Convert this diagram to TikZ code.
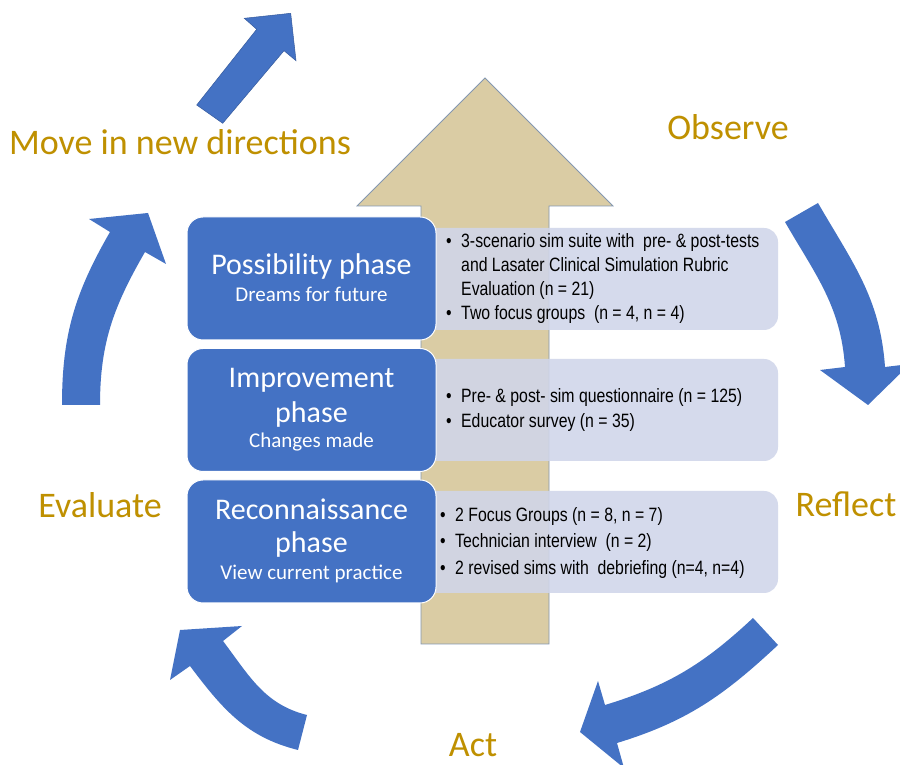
\documentclass[tikz,border=0pt]{standalone}
\usepackage{fontspec}
\setmainfont{Carlito}
\newfontfamily\listfont[FakeStretch=0.82]{Liberation Sans}
\definecolor{cycleblue}{HTML}{4472C4}
\definecolor{labelgold}{HTML}{BF9000}
\definecolor{shafttan}{HTML}{DACCA4}
\definecolor{tanedge}{HTML}{8497B0}
\definecolor{notefill}{HTML}{D0D6EA}

\begin{document}
\begin{tikzpicture}[x=1pt,y=1pt,
  cyclearrow/.style={fill=cycleblue},
  phasebox/.style={fill=cycleblue, draw=white, line width=1pt, rounded corners=16pt,
    minimum width=249pt, minimum height=123pt, inner sep=0pt},
  notebox/.style={fill=notefill, fill opacity=0.88, rounded corners=14pt,
    minimum height=102pt, inner sep=0pt},
  steplabel/.style={text=labelgold, font=\fontsize{36}{40}\selectfont, anchor=base, inner sep=0pt},
  phasetitle/.style={text=white, font=\fontsize{30}{34}\selectfont, anchor=base, inner sep=0pt},
  phasesub/.style={text=white, font=\fontsize{21}{24}\selectfont, anchor=base, inner sep=0pt},
  noteline/.style={font=\listfont\fontsize{19.3}{23}\selectfont, anchor=base west, inner sep=0pt},
]
\newcommand{\bul}{\makebox[15pt][l]{\textbullet}}
\useasboundingbox (0,0) rectangle (900,765);
\fill[white] (0,0) rectangle (900,765);

% big upward arrow behind the phases
\draw[fill=shafttan, draw=tanedge, line width=0.8pt]
  (421,121) -- (421,559) -- (357,559) -- (485,687) -- (613,559) -- (549,559) -- (549,121) -- cycle;

% cycle arrows
% Evaluate -> Move in new directions
\fill[cyclearrow] (62,360) to[out=90,in=240] (110,533) -- (89,546) -- (148,552) -- (166,501)
  -- (145,513) to[out=240,in=90] (100,360) -- cycle;
% Observe -> Reflect
\fill[cyclearrow] (818,562) to[out=-60,in=94] (885,398) -- (910,401) -- (868,360) -- (820,395)
  -- (845,398) to[out=94,in=-60] (785,543) -- cycle;
% Reflect -> Act
\fill[cyclearrow] (778,120) to[out=223,in=17] (617,22) -- (624,-3) -- (580,33) -- (598,84)
  -- (605,60) to[out=17,in=223] (753,147) -- cycle;
% Act -> Evaluate
\fill[cyclearrow] (298,15) to[out=166,in=-53] (190,99) -- (170,85) -- (180,135) -- (242,139)
  -- (223,124) to[out=-53,in=166] (307,50) -- cycle;
% straight arrow out of the cycle
\filldraw[fill=cycleblue, draw=cycleblue!80!black, line width=0.5pt]
  (196.7,660) -- (256.7,735.7) -- (244.3,746.7) -- (290.7,751.7) -- (296,704.3)
  -- (284,714.3) -- (222.7,641.7) -- cycle;

% data boxes
\node[notebox, minimum width=378pt] (data1) at (589,486) {};
\node[notebox, minimum width=378pt] (data2) at (589,355) {};
\node[notebox, minimum width=378pt] (data3) at (589,223) {};

% phase boxes
\node[phasebox] (poss) at (311.5,486.5) {};
\node[phasebox] (impr) at (311.5,355) {};
\node[phasebox] (reco) at (311.5,223.5) {};

\node[phasetitle] (possT) at (311.5,490) {Possibility phase};
\node[phasesub]   (possS) at (311.5,463) {Dreams for future};
\node[phasetitle] (imprT) at (311.5,377) {Improvement};
\node[phasetitle] (imprP) at (311.5,342) {phase};
\node[phasesub]   (imprS) at (311.5,317) {Changes made};
\node[phasetitle] (recoT) at (311.5,245) {Reconnaissance};
\node[phasetitle] (recoP) at (311.5,212) {phase};
\node[phasesub]   (recoS) at (311.5,185) {View current practice};

% data collected in each phase
\node[noteline] (d11) at (446,517)   {\bul 3-scenario sim suite with\ \ pre- \& post-tests};
\node[noteline] (d12) at (446,493.3) {\hspace*{15pt}and Lasater Clinical Simulation Rubric};
\node[noteline] (d13) at (446,469.6) {\hspace*{15pt}Evaluation (n = 21)};
\node[noteline] (d14) at (446,445.9) {\bul Two focus groups\ \ (n = 4, n = 4)};
\node[noteline] (d21) at (446,362)   {\bul Pre- \& post- sim questionnaire (n = 125)};
\node[noteline] (d22) at (446,337)   {\bul Educator survey (n = 35)};
\node[noteline] (d31) at (440,243)   {\bul 2 Focus Groups (n = 8, n = 7)};
\node[noteline] (d32) at (440,217)   {\bul Technician interview\ \ (n = 2)};
\node[noteline] (d33) at (440,190)   {\bul 2 revised sims with\ \ debriefing (n=4, n=4)};

% cycle stage labels
\node[steplabel] (move) at (180,610) {Move in new directions};
\node[steplabel] (obs)  at (728,625) {Observe};
\node[steplabel] (refl) at (846,248) {Reflect};
\node[steplabel] (act)  at (473,8)   {Act};
\node[steplabel] (eval) at (100,247) {Evaluate};
\end{tikzpicture}
\end{document}
